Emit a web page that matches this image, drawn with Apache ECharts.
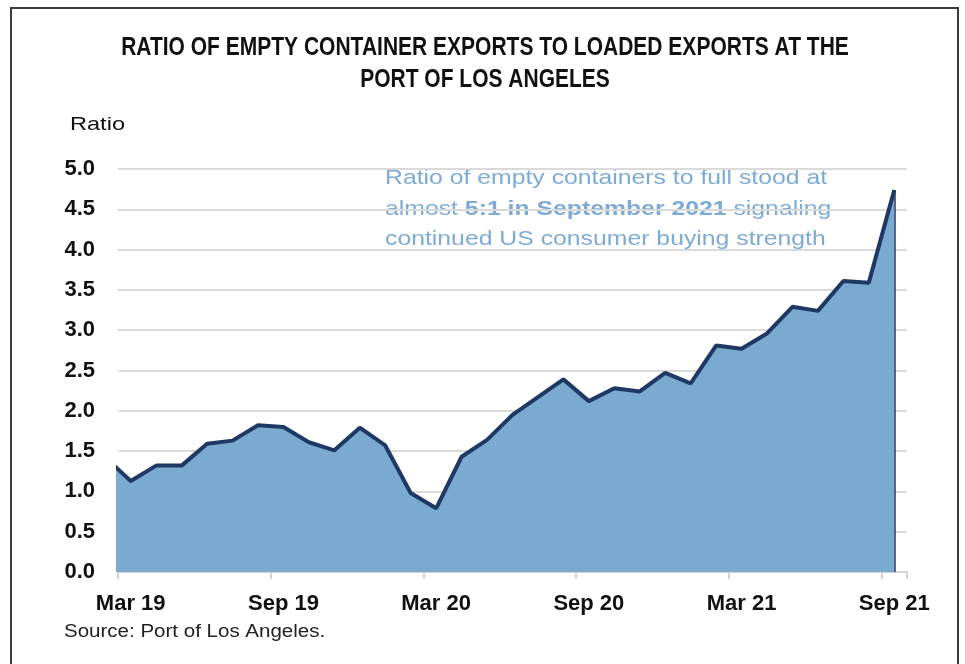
<!DOCTYPE html>
<html>
<head>
<meta charset="utf-8">
<script src="https://cdn.jsdelivr.net/npm/echarts@6/dist/echarts.min.js"></script>
<style>
  html, body { margin: 0; padding: 0; background: #fff; }
  #main { width: 965px; height: 664px; }
</style>
</head>
<body>
<div id="main"></div>
<script>
// months shown on the axis (Mar 19 .. Sep 21)
var months = [
  'Mar 19', 'Apr 19', 'May 19', 'Jun 19', 'Jul 19', 'Aug 19', 'Sep 19', 'Oct 19', 'Nov 19', 'Dec 19',
  'Jan 20', 'Feb 20', 'Mar 20', 'Apr 20', 'May 20', 'Jun 20', 'Jul 20', 'Aug 20', 'Sep 20', 'Oct 20',
  'Nov 20', 'Dec 20', 'Jan 21', 'Feb 21', 'Mar 21', 'Apr 21', 'May 21', 'Jun 21', 'Jul 21', 'Aug 21', 'Sep 21'
]
// ratio of empty to loaded exports, one per month
var ratios = [
  1.13, 1.32, 1.32, 1.59, 1.63, 1.82, 1.80, 1.61, 1.51, 1.79,
  1.57, 0.98, 0.79, 1.43, 1.64, 1.95, 2.17, 2.39, 2.12, 2.28,
  2.24, 2.47, 2.34, 2.81, 2.77, 2.96, 3.29, 3.24, 3.61, 3.59, 4.74
]
// month before the window (Feb 19), cut off at the left edge
var priorRatio = 1.42
var yTicks = [0, 0.5, 1, 1.5, 2, 2.5, 3, 3.5, 4, 4.5, 5]

var titleLines = [
  'RATIO OF EMPTY CONTAINER EXPORTS TO LOADED EXPORTS AT THE',
  'PORT OF LOS ANGELES'
]

var chart = echarts.init(document.getElementById('main'))

// points sit mid-month, ticks sit on month boundaries
var points = [[-0.5, priorRatio]]
for (var i = 0; i < ratios.length; i++) {
  points.push([i + 0.5, ratios[i]])
}
var last = points[points.length - 1]

var sans = "'Liberation Sans', Arial, sans-serif"

var option = {
  animation: false,
  grid: {
    left: 118,
    right: 58,
    top: 169,
    bottom: 92,
    containLabel: false
  },
  xAxis: [
    {
      type: 'value',
      min: 0,
      max: months.length,
      interval: 6,
      axisLine: { show: true, lineStyle: { color: '#d4d4d4', width: 2 } },
      axisTick: { show: true, length: 7, lineStyle: { color: '#d4d4d4', width: 2 } },
      axisLabel: { show: false },
      splitLine: { show: false }
    },
    {
      type: 'category',
      data: months,
      position: 'bottom',
      boundaryGap: true,
      axisLine: { show: false },
      axisTick: { show: false },
      splitLine: { show: false },
      axisLabel: {
        interval: 5,
        margin: 21,
        color: '#111',
        fontFamily: sans,
        fontWeight: 'bold',
        fontSize: 22
      }
    }
  ],
  yAxis: {
    type: 'value',
    min: yTicks[0],
    max: yTicks[yTicks.length - 1],
    interval: 0.5,
    axisLine: { show: false },
    axisTick: { show: false },
    axisLabel: {
      margin: 23,
      color: '#111',
      fontFamily: sans,
      fontWeight: 'bold',
      fontSize: 22,
      formatter: function (v) { return v.toFixed(1) }
    },
    splitLine: { lineStyle: { color: '#dadada', width: 2 } }
  },
  series: [
    {
      type: 'line',
      xAxisIndex: 0,
      data: points,
      symbol: 'none',
      clip: true,
      lineStyle: { color: '#1f3864', width: 4 },
      areaStyle: { color: '#7aaad0', opacity: 1 },
      markLine: {
        silent: true,
        symbol: 'none',
        label: { show: false },
        lineStyle: { color: '#1f3864', width: 1.5, type: 'solid' },
        data: [[{ coord: [last[0], 0] }, { coord: [last[0], last[1]] }]]
      }
    }
  ],
  graphic: [
    {
      type: 'rect',
      shape: { x: 11, y: 8, width: 947, height: 700 },
      style: { fill: 'none', stroke: '#3a3a3a', lineWidth: 2 },
      silent: true
    },
    {
      type: 'text',
      x: 485,
      y: 48,
      scaleX: 0.84,
      style: {
        text: titleLines[0],
        textAlign: 'center',
        textVerticalAlign: 'middle',
        fill: '#111',
        font: 'bold 25px ' + sans
      }
    },
    {
      type: 'text',
      x: 485,
      y: 80,
      scaleX: 0.84,
      style: {
        text: titleLines[1],
        textAlign: 'center',
        textVerticalAlign: 'middle',
        fill: '#111',
        font: 'bold 25px ' + sans
      }
    },
    {
      type: 'text',
      x: 70,
      y: 125,
      scaleX: 1.24,
      style: {
        text: 'Ratio',
        textVerticalAlign: 'middle',
        fill: '#111',
        font: '19px ' + sans
      }
    },
    {
      type: 'text',
      x: 385,
      y: 163,
      z: -1,
      scaleX: 1.18,
      style: {
        text: 'Ratio of empty containers to full stood at\nalmost {b|5:1 in September 2021} signaling\ncontinued US consumer buying strength',
        fill: '#7eabd6',
        font: '21px ' + sans,
        lineHeight: 30.5,
        rich: {
          b: {
            fill: '#7eabd6',
            fontWeight: 'bold',
            fontSize: 21,
            fontFamily: sans,
            lineHeight: 30.5
          }
        }
      }
    },
    {
      type: 'text',
      x: 64,
      y: 632,
      scaleX: 1.14,
      style: {
        text: 'Source: Port of Los Angeles.',
        textVerticalAlign: 'middle',
        fill: '#222',
        font: '18px ' + sans
      }
    }
  ]
}

chart.setOption(option)
</script>
</body>
</html>
